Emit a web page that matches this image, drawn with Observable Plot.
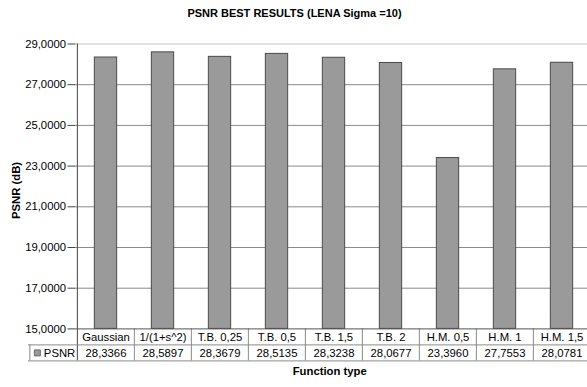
<!DOCTYPE html>
<html>
<head>
<meta charset="utf-8">
<script src="https://cdn.jsdelivr.net/npm/d3@7"></script>
<script src="https://cdn.jsdelivr.net/npm/@observablehq/plot@0.6"></script>
<style>
  html, body { margin: 0; padding: 0; background: #fff; overflow: hidden; }
  #title {
    width: 587px; height: 24px; box-sizing: border-box;
    font: bold 11px "Liberation Sans", Arial, sans-serif;
    text-align: center; padding-top: 7px; padding-left: 2px;
    color: #000;
  }
</style>
</head>
<body>
<div id="title">PSNR BEST RESULTS (LENA Sigma =10)</div>
<div id="chart"></div>
<script>
// Filter functions compared on LENA, sigma = 10
const categories = ["Gaussian", "1/(1+s^2)", "T.B. 0,25", "T.B. 0,5", "T.B. 1,5", "T.B. 2", "H.M. 0,5", "H.M. 1", "H.M. 1,5"];
const psnr = [28.3366, 28.5897, 28.3679, 28.5135, 28.3238, 28.0677, 23.3960, 27.7553, 28.0781];
const yTicks = [15, 17, 19, 21, 23, 25, 27, 29];
const seriesName = "PSNR";

const data = categories.map((c, i) => ({category: c, value: psnr[i]}));
const fmt = v => v.toFixed(4).replace(".", ",");

const width = 587, height = 363;
const marginLeft = 75.5, marginRight = -4, marginTop = 19.5, marginBottom = 58.6;
const bw = (width - marginLeft - marginRight) / categories.length;
const base = yTicks[0];
const rowH = 16;
const legendW = 47.5;
const barInset = (bw - 22.6) / 2;
const firstCat = () => categories[0];

const plot = Plot.plot({
  width, height, marginLeft, marginRight, marginTop, marginBottom,
  style: {fontFamily: "'Liberation Sans', Arial, sans-serif", fontSize: "11.3px", color: "#000", background: "#fff"},
  x: {domain: categories, padding: 0, axis: null},
  y: {domain: [yTicks[0], yTicks[yTicks.length - 1]], axis: null},
  marks: [
    // horizontal gridlines
    Plot.ruleY(yTicks.slice(1, -1), {stroke: "#8a8a8a", strokeWidth: 1}),
    Plot.ruleY(yTicks.slice(-1), {stroke: "#c4c4c4", strokeWidth: 1}),
    // bars
    Plot.barY(data, {x: "category", y1: base, y2: "value", fill: "#9a9a9a", stroke: "#4a4a4a", strokeWidth: 1, insetLeft: barInset, insetRight: barInset}),
    // y axis
    Plot.axisY({ticks: yTicks, tickFormat: fmt, tickSize: 8, tickPadding: 2, label: null, stroke: "#444", fontSize: 11.3}),
    // vertical axis line, running down through the data table
    Plot.ruleX([categories[0]], {dx: -bw / 2, stroke: "#444", insetBottom: -2 * rowH}),
    // data table: column separators
    Plot.ruleX(categories.slice(1), {dx: -bw / 2, y1: base, y2: base, insetBottom: -2 * rowH, stroke: "#8a8a8a"}),
    // data table: horizontal lines
    Plot.ruleY([base], {stroke: "#555"}),
    Plot.ruleY([base], {dy: rowH, insetLeft: -legendW, stroke: "#8a8a8a"}),
    Plot.ruleY([base], {dy: 2 * rowH, insetLeft: -legendW, stroke: "#8a8a8a"}),
    // legend cell left border
    Plot.ruleX([categories[0]], {dx: -bw / 2 - legendW, y1: base, y2: base, insetTop: rowH, insetBottom: -2 * rowH, stroke: "#8a8a8a"}),
    // data table: category row and value row
    Plot.text(data, {x: "category", y: base, text: "category", dy: rowH / 2 + 0.5, fill: "#000"}),
    Plot.text(data, {x: "category", y: base, text: d => fmt(d.value), dy: rowH * 1.5 + 0.5, fill: "#000"}),
    // legend key
    Plot.dot([seriesName], {x: firstCat, y: base, dx: -bw / 2 - legendW + 7.5, dy: rowH * 1.5, symbol: "square", r: 3.4, fill: "#9a9a9a", stroke: "#555", strokeWidth: 0.8}),
    Plot.text([seriesName], {x: firstCat, y: base, text: d => d, dx: -bw / 2 - legendW + 14, dy: rowH * 1.5 + 0.5, textAnchor: "start", fill: "#000"}),
    // axis titles
    Plot.text(["Function type"], {frameAnchor: "bottom", text: d => d, dx: -4, dy: 46.5, fontWeight: "bold", fill: "#000"}),
    Plot.text(["PSNR (dB)"], {frameAnchor: "left", text: d => d, dx: -59.5, dy: 4, rotate: -90, textAnchor: "middle", fontWeight: "bold", fill: "#000"})
  ]
});

document.getElementById("chart").appendChild(plot);
</script>
</body>
</html>
